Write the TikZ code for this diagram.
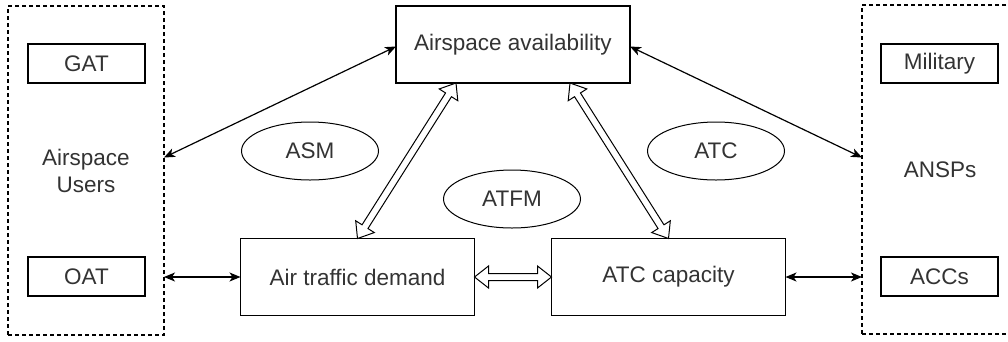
\documentclass[tikz,border=0pt]{standalone}
\usepackage{fontspec}
\setmainfont{Liberation Sans}
\usetikzlibrary{calc,arrows.meta,shapes.geometric}
\definecolor{txt}{HTML}{333333}
\newcommand\flexarr[2]{%
  \coordinate (fa1) at ($(#1)!14pt!(#2)$);
  \coordinate (fb1) at ($(#2)!14pt!(#1)$);
  \draw[flexline] (#1) -- ($(fa1)!11pt!90:(#2)$) -- ($(fa1)!3.5pt!90:(#2)$)
    -- ($(fb1)!3.5pt!-90:(#1)$) -- ($(fb1)!11pt!-90:(#1)$) -- (#2)
    -- ($(fb1)!11pt!90:(#1)$) -- ($(fb1)!3.5pt!90:(#1)$)
    -- ($(fa1)!3.5pt!-90:(#2)$) -- ($(fa1)!11pt!-90:(#2)$) -- cycle;}
\begin{document}
\begin{tikzpicture}[x=1pt,y=-1pt,
  every node/.style={font=\fontsize{22.5}{27}\selectfont, text=txt, inner sep=0pt, outer sep=0pt},
  box/.style={draw=black, line width=1.3pt, rectangle},
  bigbox/.style={box, minimum width=234pt, minimum height=77pt},
  smallbox/.style={box, minimum width=117pt, minimum height=39pt},
  group/.style={draw=black, line width=1.1pt, dash pattern=on 4pt off 3pt, rectangle, minimum width=156pt, minimum height=329pt, align=center},
  oval/.style={draw=black, line width=1pt, ellipse, minimum width=137pt, minimum height=58pt},
  thin/.style={line width=1.2pt, arrows={Stealth[length=11pt,width=9pt,inset=3pt]-Stealth[length=11pt,width=9pt,inset=3pt]}},
  flexline/.style={draw=black, line width=1pt, fill=white, line join=miter}
]
\useasboundingbox (0,0) rectangle (1008,341);
\fill[white] (0,0) rectangle (1008,341);
% groups
\node[group] (lu) at (86,170.5) {Airspace\\Users};
\node[group] (an) at (940,169.5) {ANSPs};
\node[smallbox] (gat) at (86.5,63.5) {GAT};
\node[smallbox] (oat) at (86.5,276.5) {OAT};
\node[smallbox] (mil) at (939.5,63.5) {Military};
\node[smallbox] (acc) at (939.5,276.5) {ACCs};
% main boxes
\node[bigbox] (aa) at (513,44.5) {Airspace availability};
\node[bigbox] (atd) at (357.5,277) {Air traffic demand};
\node[bigbox] (atc) at (668.5,277) {ATC capacity};
% ellipses
\node[oval] (asm) at (310,151) {ASM};
\node[oval] (atco) at (716,151) {ATC};
\node[oval] (atfm) at (512,199) {ATFM};
% thin arrows
\draw[thin] ([yshift=13pt]lu.east) -- ([yshift=-2pt]aa.west);
\draw[thin] ([yshift=-2pt]aa.east) -- ([yshift=12pt]an.west);
\draw[thin] (atd.west -| lu.east) -- (atd.west);
\draw[thin] (atc.east) -- (atc.east -| an.west);
% flex arrows
\coordinate (aal) at ([xshift=-57pt]aa.south);
\coordinate (aar) at ([xshift=57pt]aa.south);
\flexarr{aal}{atd.north}
\flexarr{aar}{atc.north}
\flexarr{atd.east}{atc.west}
\end{tikzpicture}
\end{document}
